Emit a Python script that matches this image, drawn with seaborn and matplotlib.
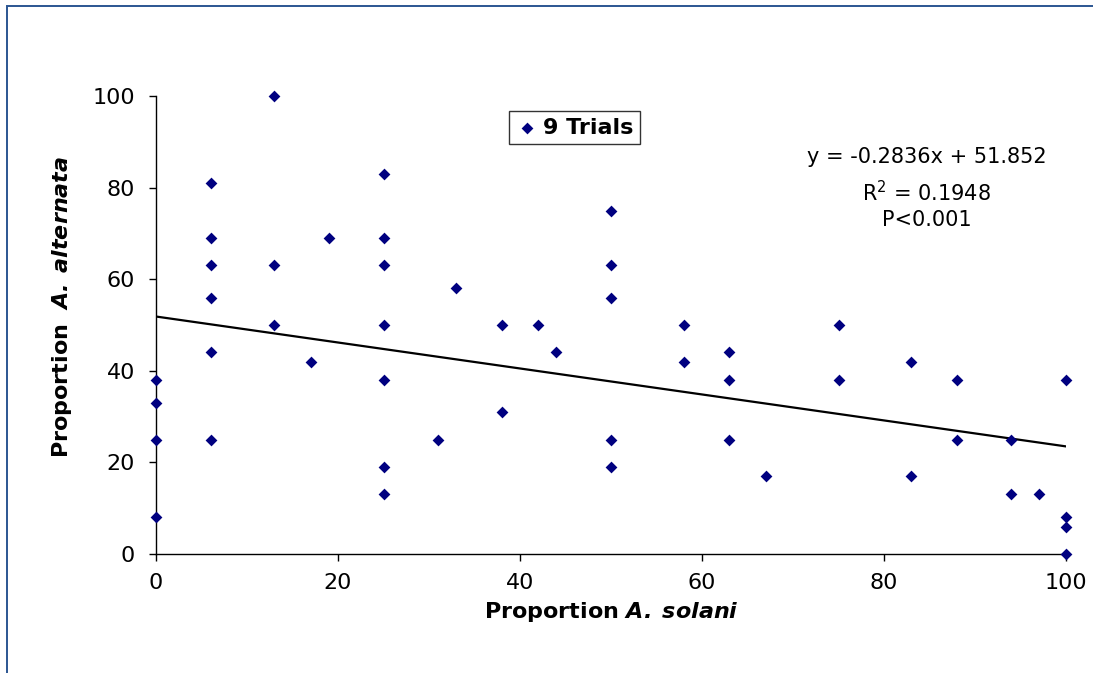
import pandas as pd
import matplotlib
matplotlib.use("Agg")
import matplotlib.pyplot as plt
import matplotlib.patches as patches
import seaborn as sns

# values (proportions, %)
solani = [0, 0, 0, 0,
          6, 6, 6, 6, 6, 6,
          13, 13, 13,
          17, 19,
          25, 25, 25, 25, 25, 25, 25,
          31, 33, 38, 38, 42, 44,
          50, 50, 50, 50, 50,
          58, 58, 63, 63, 63, 67,
          75, 75, 83, 83, 88, 88, 94, 94, 97,
          100, 100, 100, 100]
alternata = [38, 33, 25, 8,
             81, 69, 63, 56, 44, 25,
             100, 63, 50,
             42, 69,
             83, 69, 63, 50, 38, 19, 13,
             25, 58, 50, 31, 50, 44,
             75, 63, 56, 25, 19,
             50, 42, 44, 38, 25, 17,
             50, 38, 42, 17, 38, 25, 25, 13, 13,
             38, 8, 6, 0]

# trend line as printed on the chart
slope = -0.2836
intercept = 51.852
eq_lines = ["y = -0.2836x + 51.852", r"R$^2$ = 0.1948", "P<0.001"]

df = pd.DataFrame({"solani": solani, "alternata": alternata})

sns.set_style("ticks")
plt.rcParams["font.family"] = ["DejaVu Sans"]
plt.rcParams["mathtext.fontset"] = "dejavusans"
plt.rcParams["text.color"] = "black"
plt.rcParams["axes.labelcolor"] = "black"
plt.rcParams["xtick.color"] = "black"
plt.rcParams["ytick.color"] = "black"

fig = plt.figure(figsize=(10.93, 6.73), dpi=100)
ax = fig.add_axes([156 / 1093, 1 - 554 / 673, 910 / 1093, 458 / 673])

sns.scatterplot(data=df, x="solani", y="alternata", marker="D", color="#000080",
                s=36, linewidth=0, ax=ax, label="9 Trials", clip_on=False, zorder=3)

xs = [min(solani), max(solani)]
ax.plot(xs, [slope * v + intercept for v in xs], color="black", lw=1.6, zorder=2)

ax.set_xlim(0, 100)
ax.set_ylim(0, 100)
ax.set_xticks(range(0, 101, 20))
ax.set_yticks(range(0, 101, 20))
ax.tick_params(direction="out", length=5, width=1, labelsize=16)
ax.tick_params(axis="y", pad=10)
ax.tick_params(axis="x", pad=9)
for side in ["left", "bottom"]:
    ax.spines[side].set_color("black")
    ax.spines[side].set_linewidth(1)
sns.despine(ax=ax)

ax.set_xlabel(r"Proportion $\mathbfit{A.\;solani}$", fontsize=16, fontweight="bold")
ax.set_ylabel(r"Proportion  $\mathbfit{A.\;alternata}$", fontsize=16, fontweight="bold")
ax.xaxis.set_label_coords(0.5, -0.1)
ax.yaxis.set_label_coords(-0.09, 0.54)

leg = ax.legend(loc="center", bbox_to_anchor=(0.46, 0.931), frameon=True, fancybox=False,
                prop={"size": 16, "weight": "bold"}, handletextpad=0.2, borderpad=0.3,
                handlelength=1.0, borderaxespad=0)
leg.get_frame().set_edgecolor("black")
leg.get_frame().set_linewidth(1)

for txt, yy in zip(eq_lines, [0.867, 0.79, 0.729]):
    ax.text(0.847, yy, txt, transform=ax.transAxes, ha="center", va="center", fontsize=15)

# outer chart border (runs off the right and bottom edges)
fig.patches.append(patches.Rectangle((6.5 / 1093, -0.1), 2, 1.1 - 6.5 / 673, transform=fig.transFigure,
                                     fill=False, edgecolor="#2B5592", lw=1.4, clip_on=False))

fig.savefig("out.png", dpi=100)
